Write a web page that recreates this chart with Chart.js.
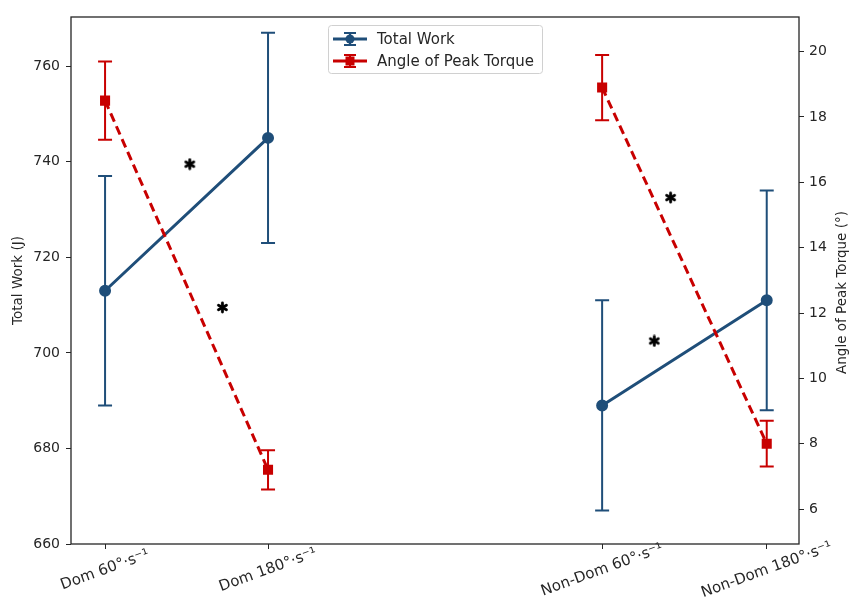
<!DOCTYPE html>
<html>
<head>
<meta charset="utf-8">
<script src="https://cdn.jsdelivr.net/npm/chart.js@4/dist/chart.umd.min.js"></script>
<style>
  html, body { margin: 0; background: #fff; }
</style>
</head>
<body>
<canvas id="chart" width="851" height="615"></canvas>
<script>
// data
const categories = ['Dom 60°·s⁻¹', 'Dom 180°·s⁻¹', 'Non-Dom 60°·s⁻¹', 'Non-Dom 180°·s⁻¹'];
const xPositions = [0, 1, 3.05, 4.06];
const totalWork = [713, 745, 689, 711];
const totalWorkErr = [24, 22, 22, 23];
const peakAngle = [18.5, 7.2, 18.9, 8.0];
const peakAngleErr = [1.2, 0.6, 1.0, 0.7];
const starX = [0.52, 0.72, 3.47, 3.37];
const starY = [739.5, 709.5, 732.5, 702.5];
const workTicks = [660, 680, 700, 720, 740, 760];
const angleTicks = [6, 8, 10, 12, 14, 16, 18, 20];

const BLUE = '#1f4e79';
const RED = '#c80000';
const FONT = '"DejaVu Sans", sans-serif';
const INK = '#262626';

// lines only join the two speeds of each limb, so break between pairs
function pairPoints(values) {
    return [
        { x: xPositions[0], y: values[0] },
        { x: xPositions[1], y: values[1] },
        { x: (xPositions[1] + xPositions[2]) / 2, y: null },
        { x: xPositions[2], y: values[2] },
        { x: xPositions[3], y: values[3] }
    ];
}

// six armed asterisk marker
const star = document.createElement('canvas');
star.width = 13; star.height = 13;
(() => {
    const g = star.getContext('2d');
    g.strokeStyle = '#000';
    g.lineWidth = 2.8;
    g.lineCap = 'round';
    for (let a = 0; a < 3; a++) {
        const t = Math.PI / 2 + a * Math.PI / 3;
        g.beginPath();
        g.moveTo(6.5 - 4.6 * Math.cos(t), 6.5 - 4.6 * Math.sin(t));
        g.lineTo(6.5 + 4.6 * Math.cos(t), 6.5 + 4.6 * Math.sin(t));
        g.stroke();
    }
})();

const errorBars = {
    id: 'errorBars',
    beforeDatasetsDraw(chart) {
        const { ctx, scales } = chart;
        const sets = [
            { vals: totalWork, err: totalWorkErr, axis: scales.y, color: BLUE },
            { vals: peakAngle, err: peakAngleErr, axis: scales.y2, color: RED }
        ];
        ctx.save();
        sets.forEach(s => {
            ctx.strokeStyle = s.color;
            ctx.lineWidth = 2;
            s.vals.forEach((v, i) => {
                const px = scales.x.getPixelForValue(xPositions[i]);
                const top = s.axis.getPixelForValue(v + s.err[i]);
                const bot = s.axis.getPixelForValue(v - s.err[i]);
                ctx.beginPath();
                ctx.moveTo(px, top); ctx.lineTo(px, bot);
                ctx.moveTo(px - 7, top); ctx.lineTo(px + 7, top);
                ctx.moveTo(px - 7, bot); ctx.lineTo(px + 7, bot);
                ctx.stroke();
            });
        });
        ctx.restore();
    }
};

const decorations = {
    id: 'decorations',
    afterDraw(chart) {
        const { ctx, chartArea: a, scales } = chart;
        ctx.save();
        // frame
        ctx.strokeStyle = INK;
        ctx.lineWidth = 1.3;
        ctx.strokeRect(a.left, a.top, a.right - a.left, a.bottom - a.top);

        // rotated category labels, centred under their ticks
        ctx.fillStyle = INK;
        ctx.font = '15px ' + FONT;
        ctx.textAlign = 'center';
        ctx.textBaseline = 'middle';
        categories.forEach((c, i) => {
            const px = scales.x.getPixelForValue(xPositions[i]);
            ctx.save();
            ctx.translate(px, a.bottom + 26);
            ctx.rotate(-20 * Math.PI / 180);
            ctx.fillText(c, 0, 0);
            ctx.restore();
        });

        // right axis title, reading upwards
        ctx.font = '13.5px ' + FONT;
        ctx.save();
        ctx.translate(842, (a.top + a.bottom) / 2 + 12);
        ctx.rotate(-Math.PI / 2);
        ctx.fillText('Angle of Peak Torque (°)', 0, 0);
        ctx.restore();

        // legend
        const lx = 328, ly = 25, lw = 214, lh = 48;
        ctx.fillStyle = 'rgba(255,255,255,0.85)';
        ctx.strokeStyle = '#d0d0d0';
        ctx.lineWidth = 1;
        ctx.beginPath();
        ctx.roundRect(lx + 0.5, ly + 0.5, lw, lh, 3);
        ctx.fill(); ctx.stroke();
        const items = [
            { label: 'Total Work', color: BLUE, y: ly + 14, shape: 'circle' },
            { label: 'Angle of Peak Torque', color: RED, y: ly + 36, shape: 'square' }
        ];
        items.forEach(it => {
            const cx = lx + 22;
            ctx.strokeStyle = it.color;
            ctx.fillStyle = it.color;
            ctx.lineWidth = 3;
            ctx.beginPath();
            ctx.moveTo(lx + 5, it.y); ctx.lineTo(lx + 39, it.y);
            ctx.stroke();
            ctx.lineWidth = 2;
            ctx.beginPath();
            ctx.moveTo(cx, it.y - 6); ctx.lineTo(cx, it.y + 6);
            ctx.moveTo(cx - 6, it.y - 6); ctx.lineTo(cx + 6, it.y - 6);
            ctx.moveTo(cx - 6, it.y + 6); ctx.lineTo(cx + 6, it.y + 6);
            ctx.stroke();
            ctx.beginPath();
            if (it.shape === 'circle') ctx.arc(cx, it.y, 4.5, 0, Math.PI * 2);
            else ctx.rect(cx - 4.5, it.y - 4.5, 9, 9);
            ctx.fill();
            ctx.fillStyle = INK;
            ctx.font = '15px ' + FONT;
            ctx.textAlign = 'left';
            ctx.fillText(it.label, lx + 49, it.y + 1);
        });
        ctx.restore();
    }
};

const tickFont = { family: FONT, size: 14 };
const titleFont = { family: FONT, size: 13.5 };

new Chart(document.getElementById('chart'), {
    type: 'line',
    data: {
        datasets: [
            {
                label: 'Total Work',
                data: pairPoints(totalWork),
                yAxisID: 'y',
                borderColor: BLUE,
                backgroundColor: BLUE,
                borderWidth: 3,
                pointRadius: 4.5,
                pointStyle: 'circle',
                spanGaps: false,
                order: 2
            },
            {
                label: 'Angle of Peak Torque',
                data: pairPoints(peakAngle),
                yAxisID: 'y2',
                borderColor: RED,
                backgroundColor: RED,
                borderWidth: 3,
                borderDash: [9, 5],
                pointRadius: 5,
                pointStyle: 'rect',
                spanGaps: false,
                order: 1
            },
            {
                type: 'scatter',
                label: 'sig',
                data: starX.map((x, i) => ({ x: x, y: starY[i] })),
                yAxisID: 'y',
                pointStyle: star,
                showLine: false,
                order: 0
            }
        ]
    },
    options: {
        responsive: false,
        animation: false,
        layout: { padding: { top: 17, left: 0, right: 0, bottom: 0 } },
        plugins: { legend: { display: false }, tooltip: { enabled: false } },
        scales: {
            x: {
                type: 'linear',
                min: -0.209,
                max: 4.258,
                afterBuildTicks: s => { s.ticks = xPositions.map(v => ({ value: v })); },
                afterFit: s => { s.height = 71; },
                ticks: { display: false },
                grid: { drawOnChartArea: false, drawTicks: true, tickLength: 5, color: INK, lineWidth: 1 },
                border: { display: false }
            },
            y: {
                position: 'left',
                min: 660,
                max: 770.3,
                afterBuildTicks: s => { s.ticks = workTicks.map(v => ({ value: v })); },
                afterFit: s => { s.width = 71; },
                ticks: { font: tickFont, color: INK, padding: 6 },
                grid: { drawOnChartArea: false, drawTicks: true, tickLength: 5, color: INK },
                border: { display: false },
                title: { display: true, text: 'Total Work (J)', font: titleFont, color: INK, padding: { top: 10, bottom: 0 } }
            },
            y2: {
                position: 'right',
                min: 4.93,
                max: 21.06,
                afterBuildTicks: s => { s.ticks = angleTicks.map(v => ({ value: v })); },
                afterFit: s => { s.width = 52; },
                ticks: { font: tickFont, color: INK, padding: 5 },
                grid: { drawOnChartArea: false, drawTicks: true, tickLength: 5, color: INK },
                border: { display: false }
            }
        }
    },
    plugins: [errorBars, decorations]
});
</script>
</body>
</html>
